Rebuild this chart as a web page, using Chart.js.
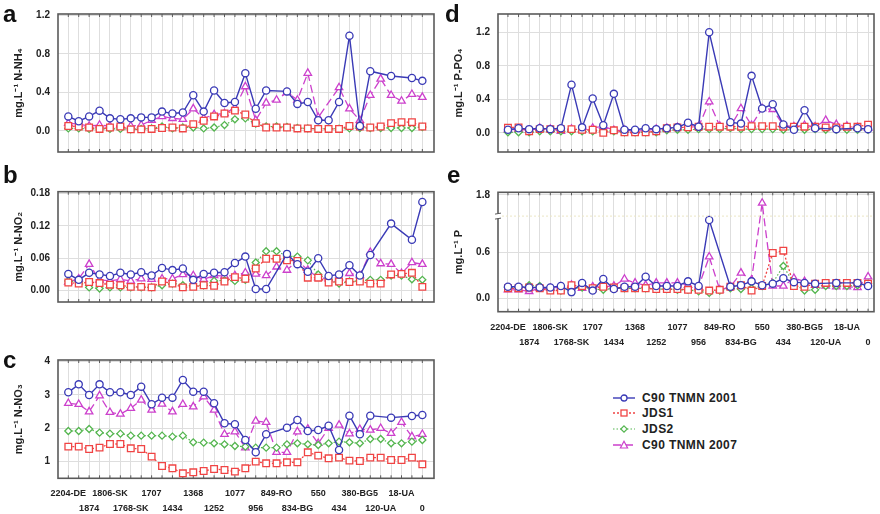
<!DOCTYPE html>
<html>
<head>
<meta charset="utf-8">
<script src="https://cdn.jsdelivr.net/npm/chart.js@4.4.1/dist/chart.umd.min.js"></script>
<style>
    body { margin: 0; background: #fff; width: 880px; height: 514px; position: relative; overflow: hidden;
           font-family: 'Liberation Sans', Arial, sans-serif; }
    canvas { position: absolute; }
    .letter { position: absolute; font-weight: bold; font-size: 24px; line-height: 1; color: #111; }
    .legend { position: absolute; left: 613px; top: 390px; }
    .legend div { height: 15.6px; display: flex; align-items: center; font-weight: bold; font-size: 12px;
                  letter-spacing: 0.4px; color: #222; }
    .legend svg { margin-right: 7px; }
</style>
</head>
<body>

<canvas id="cA" width="440" height="166" style="left:0;top:0"></canvas>
<canvas id="cB" width="440" height="156" style="left:0;top:160px"></canvas>
<canvas id="cC" width="440" height="179" style="left:0;top:335px"></canvas>
<canvas id="cD" width="440" height="166" style="left:440px;top:0"></canvas>
<canvas id="cE" width="440" height="190" style="left:440px;top:160px"></canvas>

<div class="letter" style="left:3px;top:2px">a</div>
<div class="letter" style="left:3px;top:163px">b</div>
<div class="letter" style="left:3px;top:348px">c</div>
<div class="letter" style="left:445px;top:2px">d</div>
<div class="letter" style="left:447px;top:163px">e</div>

<div class="legend" id="legend"></div>

<script>
// ==========================
// DATA
// ==========================
const stations = ['2204-DE','1874','1806-SK','1768-SK','1707','1434','1368','1252','1077',
                  '956','849-RO','834-BG','550','434','380-BG5','120-UA','18-UA','0'];
const seriesNames = ['C90 TNMN 2001', 'JDS1', 'JDS2', 'C90 TNMN 2007'];

// a - N-NH4
const nh4_2001 = [0.15,0.10,0.15,0.21,0.13,0.12,0.13,0.14,0.14,0.20,0.18,0.19,0.37,0.20,0.42,0.29,0.30,0.60,0.23,0.42,null,0.41,0.28,0.30,0.11,0.11,0.30,0.99,0.05,0.62,null,0.57,null,0.55,0.52];
const nh4_jds1 = [0.05,0.045,0.035,0.02,0.035,0.045,0.015,0.015,0.02,0.03,0.035,0.025,0.07,0.105,0.15,0.18,0.21,0.17,0.08,0.035,0.035,0.035,0.025,0.025,0.02,0.02,0.02,0.05,0.045,0.035,0.045,0.08,0.09,0.09,0.045];
const nh4_jds2 = [0.025,0.025,0.02,0.02,0.02,0.02,0.015,0.02,0.025,0.045,0.025,0.035,0.035,0.025,0.035,0.06,0.12,0.13,0.075,0.045,0.045,0.04,0.03,0.025,0.022,0.022,0.022,0.025,0.03,0.03,0.03,0.03,0.03,0.03,0.04];
const nh4_2007 = [0.08,0.07,0.05,0.06,0.05,0.06,0.05,0.06,0.11,0.15,0.13,0.12,0.23,0.13,0.17,0.18,0.24,0.46,0.11,0.29,0.32,0.40,0.32,0.60,0.14,null,0.45,0.23,0.11,0.37,0.54,0.37,0.31,0.38,0.35];

// b - N-NO2
const no2_2001 = [0.031,0.020,0.033,0.030,0.027,0.033,0.030,0.034,0.028,0.042,0.038,0.041,0.020,0.031,0.033,0.034,0.051,0.063,0.003,0.003,null,0.068,0.049,0.035,0.060,0.027,0.030,0.047,0.028,0.066,null,0.124,null,0.094,0.164];
const no2_jds1 = [0.015,0.013,0.016,0.014,0.011,0.010,0.007,0.007,0.006,0.017,0.013,0.006,0.007,0.010,0.009,0.017,0.025,0.022,0.041,0.059,0.059,0.056,0.055,0.024,0.024,0.015,0.017,0.016,0.017,0.013,0.013,0.030,0.031,0.033,0.007];
const no2_jds2 = [0.018,0.016,0.006,0.004,0.006,0.006,0.006,0.006,0.006,0.010,0.013,0.010,0.009,0.010,0.018,0.019,0.018,0.020,0.052,0.073,0.073,0.064,0.063,0.056,0.030,0.021,0.013,0.017,0.018,0.020,0.020,0.028,0.028,0.021,0.020];
const no2_2007 = [0.016,0.022,0.049,0.020,0.018,0.021,0.018,0.022,0.021,0.022,0.022,0.030,0.028,0.021,0.028,0.027,0.028,0.033,0.031,0.028,0.044,0.038,0.056,0.038,0.024,0.022,0.024,0.032,0.028,0.071,0.050,0.049,0.032,0.052,0.049];

// c - N-NO3
const no3_2001 = [3.08,3.32,3.00,3.32,3.08,3.08,3.00,3.25,2.72,2.92,2.92,3.45,3.10,3.10,2.75,2.15,2.12,1.65,1.28,1.82,null,2.02,2.25,1.92,1.95,2.08,1.35,2.38,1.82,2.38,null,2.32,null,2.37,2.40];
const no3_jds1 = [1.45,1.45,1.38,1.42,1.53,1.53,1.40,1.38,1.15,0.87,0.80,0.65,0.68,0.72,0.78,0.75,0.70,0.80,1.00,0.95,0.95,0.98,0.98,1.28,1.18,1.10,1.12,1.03,1.02,1.12,1.12,1.05,1.05,1.12,0.92];
const no3_jds2 = [1.92,1.92,1.98,1.87,1.84,1.84,1.78,1.78,1.78,1.78,1.75,1.78,1.58,1.57,1.55,1.52,1.47,1.45,1.42,1.42,1.42,1.52,1.55,1.52,1.50,1.55,1.60,1.58,1.55,1.68,1.68,1.55,1.55,1.60,1.65];
const no3_2007 = [2.75,2.72,2.50,2.98,2.48,2.43,2.60,2.85,2.55,2.73,2.50,2.72,2.65,2.95,2.55,1.82,1.90,1.42,2.22,2.18,1.28,1.28,1.90,1.98,1.55,2.00,2.10,1.84,1.97,1.95,2.00,1.85,2.18,1.75,1.82];

// d - P-PO4
const po4_2001 = [0.036,0.055,0.044,0.055,0.044,0.055,0.575,0.065,0.41,0.09,0.465,0.036,0.036,0.055,0.044,0.055,0.065,0.12,0.073,1.2,null,0.127,0.11,0.68,0.29,0.34,0.10,0.036,0.27,0.055,null,0.044,null,0.055,0.044];
const po4_jds1 = [0.062,0.065,0.018,0.044,0.044,0.044,0.044,0.036,0.036,0.0,0.03,0.007,0.007,0.007,0.018,0.055,0.065,0.065,0.073,0.073,0.073,0.073,0.073,0.08,0.08,0.08,0.073,0.073,0.073,0.073,0.065,0.065,0.073,0.073,0.098];
const po4_jds2 = [0.007,0.007,0.007,0.018,0.018,0.018,0.018,0.018,0.018,0.03,0.018,0.007,0.007,0.007,0.007,0.03,0.036,0.036,0.044,0.044,0.044,0.055,0.044,0.044,0.044,0.044,0.036,0.036,0.036,0.044,0.036,0.036,0.036,0.036,0.036];
const po4_2007 = [0.036,0.044,0.03,0.055,0.044,0.018,0.044,0.036,0.055,0.08,0.03,0.03,0.018,0.03,0.044,0.055,0.065,0.09,0.073,0.37,0.08,0.073,0.29,0.09,0.29,0.28,0.09,0.073,0.09,0.073,0.15,0.10,0.08,0.065,0.055];

// e - P total (axis broken above ~1.0)
const ptot_2001 = [0.15,0.15,0.14,0.14,0.14,0.16,0.08,0.20,0.10,0.25,0.12,0.15,0.15,0.28,0.16,0.16,0.16,0.22,0.16,1.02,null,0.15,0.17,0.22,0.17,0.19,0.26,0.21,0.20,0.19,null,0.20,null,0.20,0.16];
const ptot_jds1 = [0.13,0.13,0.14,0.13,0.10,0.10,0.17,0.16,0.13,0.15,0.14,0.13,0.13,0.13,0.12,0.12,0.12,0.11,0.11,0.10,0.11,0.15,0.17,0.10,0.16,0.59,0.62,0.16,0.15,0.19,0.20,0.20,0.20,0.20,0.19];
const ptot_jds2 = [0.14,0.14,0.17,0.16,0.11,0.10,0.13,0.14,0.12,0.11,0.13,0.13,0.13,0.13,0.12,0.12,0.11,0.11,0.09,0.07,0.10,0.13,0.12,0.13,0.16,0.20,0.42,0.19,0.10,0.11,0.16,0.16,0.16,0.17,0.19];
const ptot_2007 = [0.11,0.11,0.09,0.13,0.13,0.15,0.17,0.13,0.15,0.15,0.16,0.25,0.20,0.17,0.20,0.20,0.20,0.17,0.15,0.54,0.11,0.15,0.33,0.24,1.24,0.16,0.16,0.26,0.22,0.17,0.16,0.15,0.15,0.14,0.28];

// tick labels
const nh4Ticks = ['0.0', '0.4', '0.8', '1.2'];
const no2Ticks = ['0.00', '0.06', '0.12', '0.18'];
const no3Ticks = ['1', '2', '3', '4'];
const po4Ticks = ['0.0', '0.4', '0.8', '1.2'];
const ptotTicks = ['0.0', '0.6', '1.8'];

// ==========================
// STYLES
// ==========================
const FONT = "'Liberation Sans', Arial, sans-serif";
const GRID = '#dedede';
const INK = '#222';

const styles = [
    { color: '#3a3ab6', point: 'circle',   radius: 3.6, dash: [],     width: 1.4 },
    { color: '#f04444', point: 'rect',     radius: 4.7, dash: [2, 2], width: 1.3 },
    { color: '#55b650', point: 'rectRot',  radius: 3.5, dash: [1.5, 2], width: 1.2 },
    { color: '#cc40cc', point: 'triangle', radius: 4.3, dash: [8, 4], width: 1.3 }
];

const nPts = stations.length * 2 - 1;

function stationLabel(i) {
    if (i % 2) return '';
    const name = stations[i / 2];
    return (i % 4 === 0) ? name : ['', name];
}

// ==========================
// PLUGINS
// ==========================
const framePlugin = {
    id: 'frame',
    beforeDatasetsDraw(chart) {
        const { ctx, chartArea: a, scales: { x } } = chart;
        ctx.save();
        ctx.strokeStyle = '#5a5a5a';
        ctx.lineWidth = 1.6;
        ctx.strokeRect(a.left, a.top, a.right - a.left, a.bottom - a.top);
        ctx.lineWidth = 1;
        ctx.beginPath();
        x.ticks.forEach(t => {
            const px = x.getPixelForValue(t.value);
            ctx.moveTo(px, a.top); ctx.lineTo(px, a.top + 3);
            ctx.moveTo(px, a.bottom); ctx.lineTo(px, a.bottom - 3);
        });
        ctx.stroke();
        ctx.restore();
    }
};

// break mark on panel e
const breakPlugin = {
    id: 'axisBreak',
    afterDraw(chart, args, opts) {
        if (!opts.at) return;
        const { ctx, chartArea: a, scales: { y } } = chart;
        const py = y.getPixelForValue(opts.at);
        ctx.save();
        ctx.strokeStyle = '#ebe6c4';
        ctx.setLineDash([2, 2]);
        ctx.beginPath();
        ctx.moveTo(a.left, py); ctx.lineTo(a.right, py);
        ctx.stroke();
        ctx.setLineDash([]);
        ctx.fillStyle = '#fff';
        ctx.fillRect(a.left - 3, py - 2.5, 6, 5);
        ctx.strokeStyle = '#5a5a5a';
        ctx.lineWidth = 1;
        ctx.beginPath();
        ctx.moveTo(a.left - 3, py - 2); ctx.lineTo(a.left + 3, py - 3);
        ctx.moveTo(a.left - 3, py + 3); ctx.lineTo(a.left + 3, py + 2);
        ctx.stroke();
        ctx.restore();
    }
};

// ==========================
// PANELS
// ==========================
function panel(id, sets, o) {
    return new Chart(document.getElementById(id), {
        type: 'line',
        data: {
            datasets: sets.map((vals, k) => ({
                label: seriesNames[k],
                data: vals.map((v, i) => ({ x: i, y: v })),
                borderColor: styles[k].color,
                borderWidth: styles[k].width,
                borderDash: styles[k].dash,
                pointStyle: styles[k].point,
                pointRadius: styles[k].radius,
                pointBorderColor: styles[k].color,
                pointBackgroundColor: '#fff',
                pointBorderWidth: 1.3,
                spanGaps: true,
                tension: 0
            }))
        },
        options: {
            responsive: false,
            animation: false,
            layout: { padding: o.padding },
            plugins: {
                legend: { display: false },
                tooltip: { enabled: false },
                axisBreak: { at: o.breakAt || null }
            },
            scales: {
                x: {
                    type: 'linear',
                    min: o.xMin,
                    max: o.xMax,
                    afterBuildTicks: s => { s.ticks = Array.from({ length: nPts }, (_, i) => ({ value: i })); },
                    afterFit: s => { s.height = o.xHeight; },
                    grid: { color: GRID, drawTicks: false },
                    border: { display: false },
                    ticks: {
                        display: o.showX,
                        autoSkip: false,
                        maxRotation: 0,
                        padding: 8,
                        color: INK,
                        font: { family: FONT, size: 9, weight: 'bold', lineHeight: 1.67 },
                        callback: v => stationLabel(v)
                    }
                },
                y: {
                    min: o.yMin,
                    max: o.yMax,
                    afterBuildTicks: s => { s.ticks = o.yVals.map(v => ({ value: v })); },
                    afterFit: s => { s.width = 58; },
                    grid: { color: GRID, drawTicks: false },
                    border: { display: false },
                    ticks: {
                        padding: 8,
                        color: INK,
                        font: { family: FONT, size: 10, weight: 'bold' },
                        callback: (v, i) => o.yLabels[i]
                    },
                    title: {
                        display: true,
                        text: o.title,
                        color: INK,
                        font: { family: FONT, size: 11, weight: 'bold' },
                        padding: { top: 12, bottom: 0 }
                    }
                }
            }
        },
        plugins: [framePlugin, breakPlugin]
    });
}

panel('cA', [nh4_2001, nh4_jds1, nh4_jds2, nh4_2007], {
    padding: { top: 12, right: 5, bottom: 4, left: 0 },
    xMin: -0.99, xMax: 35.12, xHeight: 0, showX: false,
    yMin: -0.22, yMax: 1.215, yVals: [0, 0.4, 0.8, 1.2], yLabels: nh4Ticks,
    title: 'mg.L⁻¹ N-NH₄'
});

panel('cB', [no2_2001, no2_jds1, no2_jds2, no2_2007], {
    padding: { top: 31.7, right: 5, bottom: 4.3, left: 0 },
    xMin: -0.99, xMax: 35.12, xHeight: 0, showX: false,
    yMin: -0.021, yMax: 0.183, yVals: [0, 0.06, 0.12, 0.18], yLabels: no2Ticks,
    title: 'mg.L⁻¹ N-NO₂'
});

panel('cC', [no3_2001, no3_jds1, no3_jds2, no3_2007], {
    padding: { top: 25, right: 5, bottom: 0, left: 0 },
    xMin: -0.99, xMax: 35.12, xHeight: 35.7, showX: true,
    yMin: 0.5, yMax: 4.05, yVals: [1, 2, 3, 4], yLabels: no3Ticks,
    title: 'mg.L⁻¹ N-NO₃'
});

panel('cD', [po4_2001, po4_jds1, po4_jds2, po4_2007], {
    padding: { top: 10, right: 4, bottom: 5, left: 0 },
    xMin: -0.94, xMax: 34.56, xHeight: 0, showX: false,
    yMin: -0.229, yMax: 1.418, yVals: [0, 0.4, 0.8, 1.2], yLabels: po4Ticks,
    title: 'mg.L⁻¹ P-PO₄'
});

panel('cE', [ptot_2001, ptot_jds1, ptot_jds2, ptot_2007], {
    padding: { top: 32.3, right: 4, bottom: 0, left: 0 },
    xMin: -0.94, xMax: 34.56, xHeight: 38.3, showX: true,
    yMin: -0.175, yMax: 1.38, yVals: [0, 0.6, 1.345], yLabels: ptotTicks,
    title: 'mg.L⁻¹ P',
    breakAt: 1.07
});

// ==========================
// LEGEND
// ==========================
const markers = [
    c => `<circle cx="11" cy="5" r="3" fill="#fff" stroke="${c}" stroke-width="1.3"/>`,
    c => `<rect x="8" y="2" width="6" height="6" fill="#fff" stroke="${c}" stroke-width="1.3"/>`,
    c => `<polygon points="11,1.8 14.2,5 11,8.2 7.8,5" fill="#fff" stroke="${c}" stroke-width="1.2"/>`,
    c => `<polygon points="11,1.3 14.6,8 7.4,8" fill="#fff" stroke="${c}" stroke-width="1.2"/>`
];
const legend = document.getElementById('legend');
seriesNames.forEach((name, k) => {
    const s = styles[k];
    const row = document.createElement('div');
    row.innerHTML = `<svg width="22" height="10">
        <line x1="0" y1="5" x2="22" y2="5" stroke="${s.color}" stroke-width="${s.width}" stroke-dasharray="${s.dash.join(' ')}"/>
        ${markers[k](s.color)}</svg><span>${name}</span>`;
    legend.appendChild(row);
});
</script>
</body>
</html>
